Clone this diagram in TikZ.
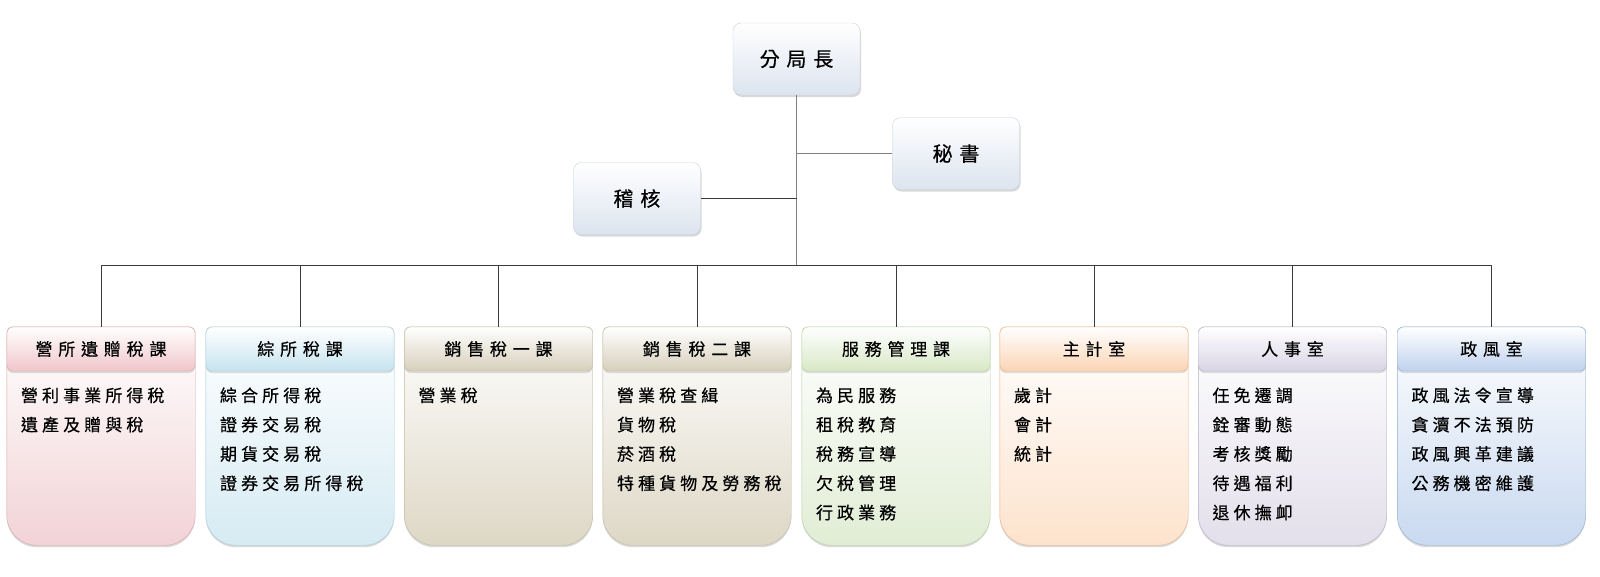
\documentclass[tikz,border=0pt]{standalone}
\usepackage{fontspec}
\newfontfamily\cjktop[LetterSpace=34,FakeBold=0.6]{Noto Sans CJK TC}
\newfontfamily\cjkhead[LetterSpace=34,FakeBold=0.5]{Noto Sans CJK TC}
\newfontfamily\cjkitem[LetterSpace=24,FakeBold=0.5]{Noto Sans CJK TC}
\usetikzlibrary{shadows,calc}
\definecolor{topfill}{HTML}{DCE4EF}
\definecolor{topborder}{HTML}{C9D1DD}
\definecolor{spinecol}{HTML}{808080}
\definecolor{linkcol}{HTML}{3C3C3C}
% body / header / border colours
\definecolor{b1}{HTML}{F2D3D6}\definecolor{h1}{HTML}{F0C6CA}\definecolor{r1}{HTML}{DDA7AC}
\definecolor{b2}{HTML}{D6EBF3}\definecolor{h2}{HTML}{C6E3EE}\definecolor{r2}{HTML}{A8CFDF}
\definecolor{b3}{HTML}{DDD7C5}\definecolor{h3}{HTML}{D6CFBA}\definecolor{r3}{HTML}{C3BBA2}
\definecolor{b4}{HTML}{DDD7C5}\definecolor{h4}{HTML}{D6CFBA}\definecolor{r4}{HTML}{C3BBA2}
\definecolor{b5}{HTML}{E1EDD5}\definecolor{h5}{HTML}{D7E8C6}\definecolor{r5}{HTML}{BDD5A4}
\definecolor{b6}{HTML}{FDE3CD}\definecolor{h6}{HTML}{FBD4B4}\definecolor{r6}{HTML}{F2B487}
\definecolor{b7}{HTML}{E3DFEB}\definecolor{h7}{HTML}{D9D4E4}\definecolor{r7}{HTML}{B9B0CA}
\definecolor{b8}{HTML}{C9D9F0}\definecolor{h8}{HTML}{BFD2EE}\definecolor{r8}{HTML}{94AFD6}
\tikzset{
  topbox/.style={draw=topborder, rounded corners=8pt, top color=white, bottom color=topfill,
    minimum width=127pt, minimum height=72pt, inner sep=0pt,
    drop shadow={shadow xshift=1pt, shadow yshift=-2pt, opacity=0.3},
    font=\cjktop\fontsize{20}{22}\selectfont},
  deptbox/.style={minimum width=188pt, minimum height=218pt, inner sep=0pt},
  headbox/.style={rounded corners=6pt, minimum width=188pt, minimum height=44pt, inner sep=0pt,
    drop shadow={shadow xshift=0pt, shadow yshift=-2pt, opacity=0.25},
    font=\cjkhead\fontsize{17}{19}\selectfont},
  item/.style={inner sep=0pt, anchor=base west, font=\cjkitem\fontsize{17}{19}\selectfont},
  spine/.style={draw=spinecol, line width=1.4pt},
  link/.style={draw=linkcol, line width=1pt},
}
\begin{document}
\begin{tikzpicture}[x=1pt, y=-1pt]
\useasboundingbox (0,0) rectangle (1600,576);
\fill[white] (0,0) rectangle (1600,576);

\node[topbox] (boss) at (796.5,59) {分局長};
\node[topbox] (sec) at (956,153.5) {秘書};
\node[topbox] (audit) at (637,198.5) {稽核};
\coordinate (bus) at (796.5,265);

\draw[spine] (boss.south) -- (bus);
\draw[spine] (boss.south |- sec.west) -- (sec.west);
\draw[link] (boss.south |- audit.east) -- (audit.east);

\foreach \i/\cx/\head/\items in {
  1/101/營所遺贈稅課/{營利事業所得稅,遺產及贈與稅},
  2/300/綜所稅課/{綜合所得稅,證券交易稅,期貨交易稅,證券交易所得稅},
  3/498.5/銷售稅一課/{營業稅},
  4/697/銷售稅二課/{營業稅查緝,貨物稅,菸酒稅,特種貨物及勞務稅},
  5/896/服務管理課/{為民服務,租稅教育,稅務宣導,欠稅管理,行政業務},
  6/1094/主計室/{歲計,會計,統計},
  7/1292.5/人事室/{任免遷調,銓審動態,考核獎勵,待遇福利,退休撫卹},
  8/1491.5/政風室/{政風法令宣導,貪瀆不法預防,政風興革建議,公務機密維護}}{
  \node[deptbox] (d\i) at (\cx,436) {};
  \path[draw=r\i, top color=white, bottom color=b\i,
        drop shadow={shadow xshift=0pt, shadow yshift=-2pt, opacity=0.3}]
    (d\i.west) [rounded corners=6pt] -- (d\i.north west) -- (d\i.north east) -- (d\i.east)
    [rounded corners=30pt] -- (d\i.south east) -- (d\i.south west) -- cycle;
  \node[headbox, draw=r\i, top color=white, bottom color=h\i, anchor=north] (h\i) at (d\i.north) {\head};
  \draw[link] (bus) -| (d\i.north);
  \foreach \t [count=\k] in \items {
    \node[item] (it\i-\k) at ($(d\i.north west)+(14,75+29.3*\k-29.3)$) {\t};
  }
}
\end{tikzpicture}
\end{document}
